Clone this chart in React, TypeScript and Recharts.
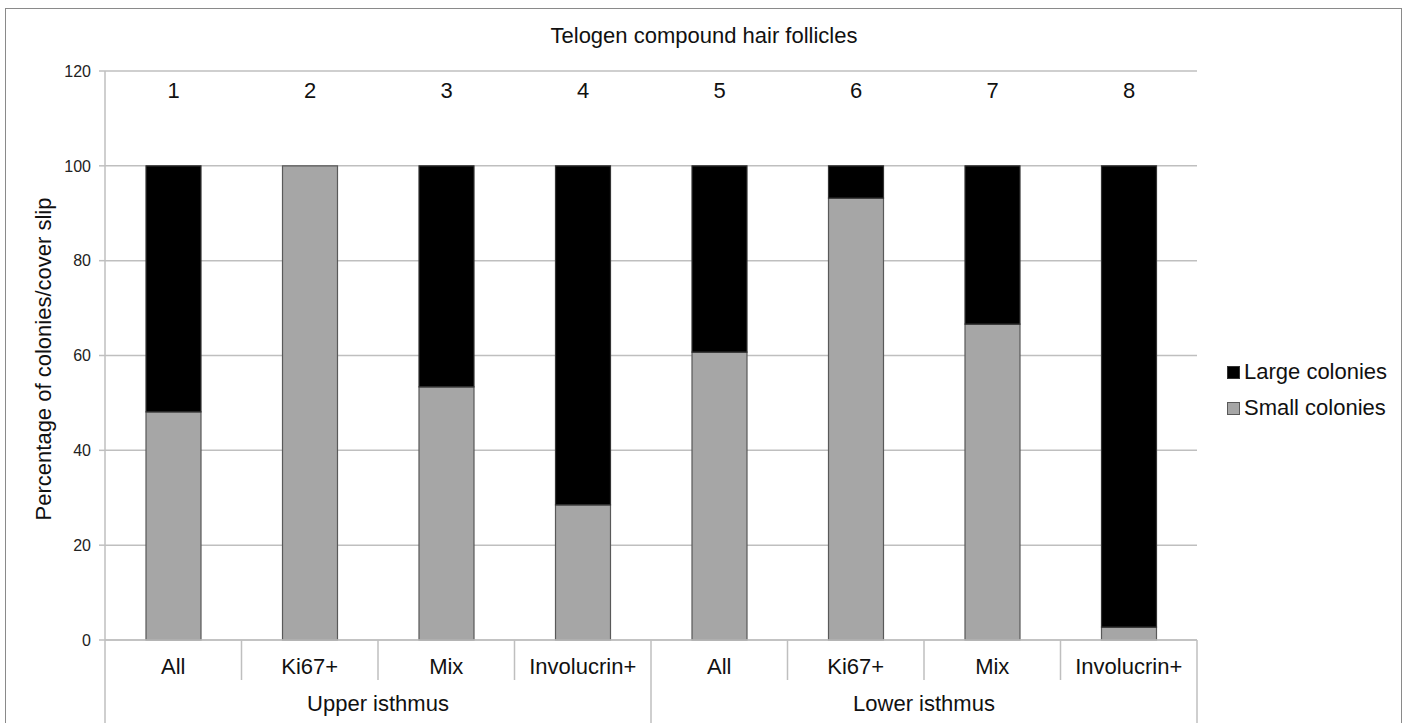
import React from "react";
import { BarChart, Bar, XAxis, YAxis, CartesianGrid, LabelList } from "recharts";

const categories = ["All", "Ki67+", "Mix", "Involucrin+", "All", "Ki67+", "Mix", "Involucrin+"];
const groups = ["Upper isthmus", "Upper isthmus", "Upper isthmus", "Upper isthmus", "Lower isthmus", "Lower isthmus", "Lower isthmus", "Lower isthmus"];
const barNumbers = ["1", "2", "3", "4", "5", "6", "7", "8"];
const smallColonies = [48.1, 100, 53.4, 28.5, 60.7, 93.2, 66.6, 2.7];
const largeColonies = [51.9, 0, 46.6, 71.5, 39.3, 6.8, 33.4, 97.3];
const yTicks = [0, 20, 40, 60, 80, 100, 120];

const W = 1408;
const H = 723;
const PLOT_LEFT = 105;
const PLOT_RIGHT = 1197;
const PLOT_TOP = 71;
const PLOT_BOTTOM = 640;
const BAND = (PLOT_RIGHT - PLOT_LEFT) / categories.length;
const FONT = "'Liberation Sans', Arial, sans-serif";
const GRID = "#bfbfbf";

const data = categories.map((c, i) => ({
  name: c,
  num: barNumbers[i],
  group: groups[i],
  small: smallColonies[i],
  large: largeColonies[i],
}));

const legendItems = [
  { label: "Large colonies", color: "#000000", stroke: "#333333" },
  { label: "Small colonies", color: "#a6a6a6", stroke: "#595959" },
];

const CategoryTick = (props: any) => {
  const { x, payload } = props;
  const i = payload.index;
  const left = x - BAND / 2;
  const firstOfGroup = i === 0 || groups[i] !== groups[i - 1];
  const last = i === categories.length - 1;
  let groupLabel = null;
  if (firstOfGroup) {
    let n = 0;
    while (i + n < groups.length && groups[i + n] === groups[i]) n++;
    groupLabel = (
      <text x={left + (n * BAND) / 2} y={711} textAnchor="middle" fontSize={22} fill="#111" fontFamily={FONT}>
        {groups[i]}
      </text>
    );
  }
  return (
    <g>
      <line x1={left} x2={left} y1={PLOT_BOTTOM} y2={firstOfGroup ? H : 680} stroke={GRID} strokeWidth={1.5} />
      {last && <line x1={x + BAND / 2} x2={x + BAND / 2} y1={PLOT_BOTTOM} y2={H} stroke={GRID} strokeWidth={1.5} />}
      <text x={x} y={674} textAnchor="middle" fontSize={22} fill="#111" fontFamily={FONT}>
        {payload.value}
      </text>
      {groupLabel}
    </g>
  );
};

const NumberLabel = (props: any) => {
  const { x, width, value } = props;
  return (
    <text x={x + width / 2} y={98} textAnchor="middle" fontSize={22} fill="#111" fontFamily={FONT}>
      {value}
    </text>
  );
};

const YLabel = () => (
  <text
    x={51}
    y={359}
    transform="rotate(-90 51 359)"
    textAnchor="middle"
    fontSize={22}
    fill="#111"
    fontFamily={FONT}
  >
    Percentage of colonies/cover slip
  </text>
);

export default function App() {
  return (
    <div style={{ position: "absolute", left: 0, top: 0, width: W, height: H, background: "#fff", overflow: "hidden" }}>
      <div
        style={{
          position: "absolute",
          left: 5,
          top: 8,
          width: 1397,
          height: 740,
          border: "1.5px solid #8a8a8a",
          boxSizing: "border-box",
        }}
      />
      <div
        style={{
          position: "absolute",
          left: 0,
          width: 1408,
          top: 23,
          textAlign: "center",
          fontFamily: FONT,
          fontSize: 22,
          color: "#111",
        }}
      >
        Telogen compound hair follicles
      </div>
      <BarChart
        width={W}
        height={H}
        data={data}
        margin={{ top: PLOT_TOP, right: W - PLOT_RIGHT, bottom: 0, left: 0 }}
        style={{ position: "absolute", left: 0, top: 0 }}
      >
        <CartesianGrid vertical={false} stroke={GRID} strokeWidth={1.5} />
        <XAxis
          dataKey="name"
          height={H - PLOT_BOTTOM}
          tickLine={false}
          axisLine={{ stroke: GRID, strokeWidth: 1.5 }}
          tick={<CategoryTick />}
          interval={0}
        />
        <YAxis
          width={PLOT_LEFT}
          domain={[0, 120]}
          ticks={yTicks}
          interval={0}
          tickSize={6}
          tickLine={{ stroke: GRID, strokeWidth: 1.5 }}
          axisLine={{ stroke: GRID, strokeWidth: 1.5 }}
          tick={{ fontSize: 16, fill: "#222", fontFamily: FONT }}
          tickMargin={8}
          label={<YLabel />}
        />
        <Bar dataKey="small" name="Small colonies" stackId="a" fill="#a6a6a6" stroke="#595959" strokeWidth={1.2} barSize={55} isAnimationActive={false}>
          <LabelList dataKey="num" content={<NumberLabel />} />
        </Bar>
        <Bar dataKey="large" name="Large colonies" stackId="a" fill="#000000" stroke="#333333" strokeWidth={1.2} barSize={55} isAnimationActive={false} />
      </BarChart>
      <div
        style={{
          position: "absolute",
          left: 1227,
          top: 354,
          fontFamily: FONT,
          fontSize: 22,
          color: "#111",
          lineHeight: "36px",
        }}
      >
        {legendItems.map((it) => (
          <div key={it.label} style={{ display: "flex", alignItems: "center" }}>
            <span
              style={{
                display: "inline-block",
                width: 11,
                height: 11,
                background: it.color,
                border: `1px solid ${it.stroke}`,
                marginRight: 4,
              }}
            />
            {it.label}
          </div>
        ))}
      </div>
    </div>
  );
}
